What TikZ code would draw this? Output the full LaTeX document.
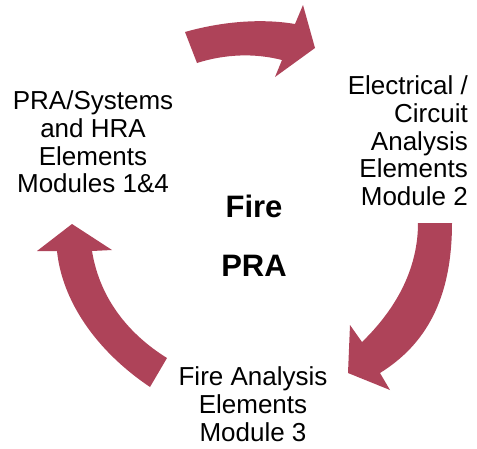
\documentclass[tikz,border=0pt]{standalone}
\usepackage{fontspec}
\setmainfont{Liberation Sans}
\definecolor{mauvien}{RGB}{174,67,89}
\begin{document}
\begin{tikzpicture}[join=round,x=1pt,y=-1pt]
			\def\co{26} % cỡ chữ
			\def\dong{27.7} % khoảng cách dòng
			\useasboundingbox (0,0) rectangle (477,448);
			\tikzset{chu/.style={font=\fontsize{\co}{\dong}\selectfont,inner sep=0pt}}
			% mũi tên trên
			\coordinate[] (A1) at (185,32);
			\coordinate[] (A2) at (295,24);
			\coordinate[] (A3) at (303,5);
			\coordinate[] (A4) at (315,48);
			\coordinate[] (A5) at (275,77);
			\coordinate[] (A6) at (282,60);
			\coordinate[] (A7) at (197,63);
			\fill[mauvien] (A1) .. controls (220,22) and (260,18) .. (A2)--(A3)--(A4)--(A5)--(A6)
				.. controls (255,53) and (225,54) .. (A7)--cycle;
			% mũi tên phải
			\coordinate[] (B1) at (418,223);
			\coordinate[] (B2) at (452,223);
			\coordinate[] (B3) at (380,373);
			\coordinate[] (B4) at (390,390);
			\coordinate[] (B5) at (348,373);
			\coordinate[] (B6) at (350,325);
			\coordinate[] (B7) at (362,342);
			\fill[mauvien] (B1)--(B2) .. controls (452,300) and (425,345) .. (B3)--(B4)--(B5)--(B6)--(B7)
				.. controls (395,310) and (418,270) .. (B1)--cycle;
			% mũi tên trái
			\coordinate[] (C1) at (150,387);
			\coordinate[] (C2) at (57,251);
			\coordinate[] (C3) at (37,251);
			\coordinate[] (C4) at (72,224);
			\coordinate[] (C5) at (112,250);
			\coordinate[] (C6) at (92,251);
			\coordinate[] (C7) at (167,358);
			\fill[mauvien] (C1) .. controls (95,350) and (62,300) .. (C2)--(C3)--(C4)--(C5)--(C6)
				.. controls (100,300) and (130,335) .. (C7)--cycle;
			% chữ
			\node[chu,align=center] (pra) at (93,142) {PRA/Systems\\and HRA\\Elements\\Modules 1\&4};
			\node[chu,align=right,anchor=east] (dien) at (468,141) {Electrical /\\Circuit\\Analysis\\Elements\\Module 2};
			\node[chu,align=center] (chay) at (253,404) {Fire Analysis\\Elements\\Module 3};
			\node[chu,font=\fontsize{31}{34}\selectfont\bfseries,anchor=base] (fire) at (254,217) {Fire};
			\node[chu,font=\fontsize{31}{34}\selectfont\bfseries,anchor=base] (fpra) at (254,276) {PRA};
\end{tikzpicture}
\end{document}
